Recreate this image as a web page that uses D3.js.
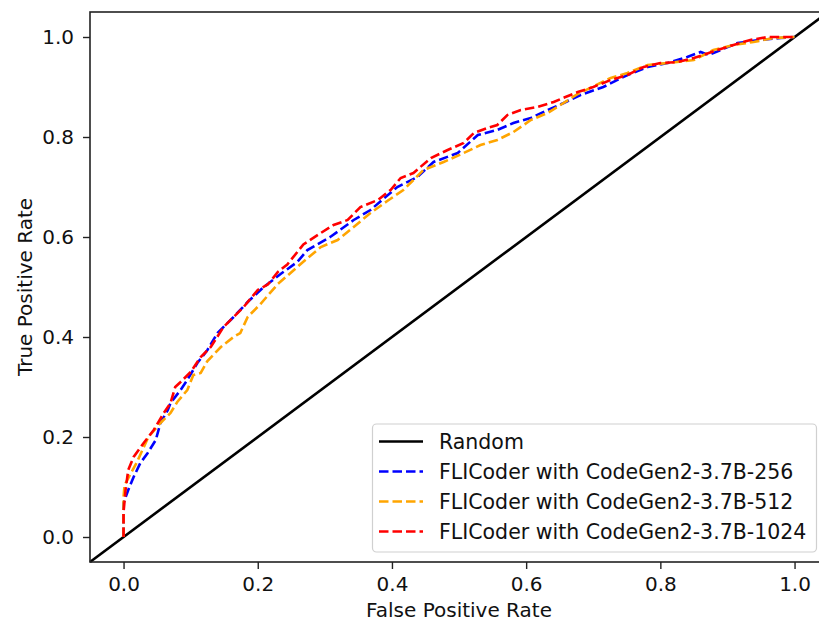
<!DOCTYPE html>
<html>
<head>
<meta charset="utf-8">
<script src="https://cdn.jsdelivr.net/npm/d3@7.9.0/dist/d3.min.js"></script>
<style>
  html, body { margin: 0; padding: 0; background: #fff; overflow: hidden; }
  svg { display: block; font-family: "DejaVu Sans", sans-serif; }
</style>
</head>
<body>
<svg id="chart" width="819" height="622"></svg>
<script>
/* ---- data ---- */
const fpr256 = [0, 0, 0.007, 0.015, 0.025, 0.036, 0.048, 0.055, 0.066, 0.07, 0.085, 0.095, 0.11, 0.125, 0.14, 0.164, 0.185, 0.209, 0.234, 0.259, 0.274, 0.308, 0.343, 0.368, 0.387, 0.408, 0.438, 0.462, 0.498, 0.528, 0.557, 0.581, 0.607, 0.632, 0.656, 0.681, 0.715, 0.751, 0.781, 0.811, 0.84, 0.86, 0.872, 0.89, 0.915, 0.949, 0.979, 1.0];
const tpr256 = [0, 0.068, 0.094, 0.12, 0.148, 0.168, 0.194, 0.228, 0.254, 0.268, 0.294, 0.314, 0.348, 0.374, 0.408, 0.44, 0.47, 0.5, 0.526, 0.55, 0.574, 0.6, 0.634, 0.654, 0.676, 0.7, 0.72, 0.75, 0.768, 0.804, 0.814, 0.828, 0.838, 0.854, 0.868, 0.884, 0.9, 0.924, 0.94, 0.948, 0.96, 0.97, 0.964, 0.974, 0.988, 0.994, 0.998, 1.0];

const fpr512 = [0, 0, 0.0015, 0.02, 0.037, 0.055, 0.07, 0.08, 0.095, 0.104, 0.115, 0.125, 0.145, 0.164, 0.174, 0.185, 0.204, 0.23, 0.264, 0.294, 0.319, 0.343, 0.368, 0.393, 0.417, 0.447, 0.477, 0.507, 0.532, 0.557, 0.581, 0.607, 0.632, 0.651, 0.677, 0.726, 0.751, 0.781, 0.811, 0.85, 0.879, 0.909, 0.939, 0.969, 1.0];
const tpr512 = [0, 0.08, 0.104, 0.15, 0.2, 0.228, 0.248, 0.27, 0.294, 0.324, 0.328, 0.352, 0.38, 0.4, 0.408, 0.44, 0.466, 0.506, 0.546, 0.58, 0.594, 0.62, 0.648, 0.672, 0.694, 0.734, 0.75, 0.768, 0.784, 0.794, 0.81, 0.834, 0.848, 0.864, 0.886, 0.918, 0.928, 0.944, 0.948, 0.954, 0.974, 0.984, 0.99, 0.998, 1.0];

const fpr1024 = [0, 0, 0.003, 0.007, 0.015, 0.03, 0.045, 0.06, 0.07, 0.077, 0.085, 0.1, 0.115, 0.13, 0.149, 0.179, 0.2, 0.215, 0.23, 0.244, 0.268, 0.294, 0.313, 0.334, 0.353, 0.379, 0.398, 0.413, 0.432, 0.458, 0.483, 0.507, 0.522, 0.542, 0.557, 0.572, 0.592, 0.617, 0.641, 0.655, 0.677, 0.7, 0.726, 0.751, 0.775, 0.8, 0.826, 0.85, 0.864, 0.885, 0.909, 0.934, 0.96, 0.99, 1.0];
const tpr1024 = [0, 0.05, 0.094, 0.134, 0.16, 0.188, 0.214, 0.248, 0.268, 0.3, 0.31, 0.33, 0.36, 0.38, 0.42, 0.46, 0.494, 0.505, 0.53, 0.545, 0.585, 0.608, 0.624, 0.634, 0.66, 0.674, 0.694, 0.718, 0.728, 0.758, 0.774, 0.788, 0.808, 0.818, 0.824, 0.844, 0.854, 0.86, 0.87, 0.878, 0.89, 0.9, 0.914, 0.924, 0.94, 0.948, 0.95, 0.958, 0.964, 0.974, 0.984, 0.994, 1.0, 1.0, 1.0];

const randomLine = [-0.05, 1.05];
const ticks = [0, 0.2, 0.4, 0.6, 0.8, 1.0];

const seriesNames  = ['FLICoder with CodeGen2-3.7B-256', 'FLICoder with CodeGen2-3.7B-512', 'FLICoder with CodeGen2-3.7B-1024'];
const seriesColors = ['blue', 'orange', 'red'];
const seriesFpr    = [fpr256, fpr512, fpr1024];
const seriesTpr    = [tpr256, tpr512, tpr1024];

/* ---- layout ---- */
const plotLeft = 90, plotTop = 12, plotBottom = 562, pxPerUnit = 671;
const x = d3.scaleLinear().domain([-0.05, 1.05]).range([plotLeft, plotLeft + 1.1 * pxPerUnit]);
const y = d3.scaleLinear().domain([-0.05, 1.05]).range([plotBottom, plotTop]);

const svg = d3.select('#chart');
const fmt = d3.format('.1f');

/* random diagonal */
const line = d3.line().x(d => x(d[0])).y(d => y(d[1]));
svg.append('path')
  .attr('d', line(randomLine.map(v => [v, v])))
  .attr('fill', 'none').attr('stroke', '#000').attr('stroke-width', 2.6);

/* ROC curves */
seriesNames.forEach((name, i) => {
  const pts = seriesFpr[i].map((f, j) => [f, seriesTpr[i][j]]);
  svg.append('path')
    .attr('d', line(pts))
    .attr('fill', 'none')
    .attr('stroke', seriesColors[i])
    .attr('stroke-width', 2.6)
    .attr('stroke-dasharray', '9.5,4');
});

/* frame */
svg.append('rect')
  .attr('x', x(-0.05)).attr('y', y(1.05))
  .attr('width', x(1.05) - x(-0.05)).attr('height', y(-0.05) - y(1.05))
  .attr('fill', 'none').attr('stroke', '#222').attr('stroke-width', 1.6);

/* axes */
const xAxis = svg.append('g')
  .attr('transform', `translate(0,${plotBottom})`)
  .call(d3.axisBottom(x).tickValues(ticks).tickFormat(fmt).tickSize(7).tickPadding(8));
const yAxis = svg.append('g')
  .attr('transform', `translate(${plotLeft},0)`)
  .call(d3.axisLeft(y).tickValues(ticks).tickFormat(fmt).tickSize(7).tickPadding(9));
[xAxis, yAxis].forEach(g => {
  g.select('.domain').remove();
  g.selectAll('.tick line').attr('stroke', '#222').attr('stroke-width', 1.4);
  g.selectAll('.tick text').attr('fill', '#111').style('font-size', '20px').style('font-family', '"DejaVu Sans", sans-serif');
});

/* axis titles */
svg.append('text')
  .attr('x', (x(-0.05) + x(1.05)) / 2).attr('y', 617)
  .attr('text-anchor', 'middle').attr('fill', '#111').style('font-size', '20px')
  .text('False Positive Rate');
svg.append('text')
  .attr('transform', `translate(32,${(plotTop + plotBottom) / 2}) rotate(-90)`)
  .attr('text-anchor', 'middle').attr('fill', '#111').style('font-size', '20px')
  .text('True Positive Rate');

/* legend */
const legend = svg.append('g');
legend.append('rect')
  .attr('x', 372.5).attr('y', 424).attr('width', 444).attr('height', 128).attr('rx', 4)
  .attr('fill', '#fff').attr('fill-opacity', 0.85).attr('stroke', '#d0d0d0').attr('stroke-width', 1.2);

const legendItems = [{ name: 'Random', color: '#000', dash: null }]
  .concat(seriesNames.map((n, i) => ({ name: n, color: seriesColors[i], dash: '9.5,4' })));
legendItems.forEach((d, i) => {
  const cy = 441.5 + i * 30;
  legend.append('line')
    .attr('x1', 379).attr('x2', 423).attr('y1', cy).attr('y2', cy)
    .attr('stroke', d.color).attr('stroke-width', 2.6)
    .attr('stroke-dasharray', d.dash);
  legend.append('text')
    .attr('x', 439).attr('y', cy).attr('dy', '0.36em')
    .attr('fill', '#111').style('font-size', '20.5px')
    .text(d.name);
});
</script>
</body>
</html>
